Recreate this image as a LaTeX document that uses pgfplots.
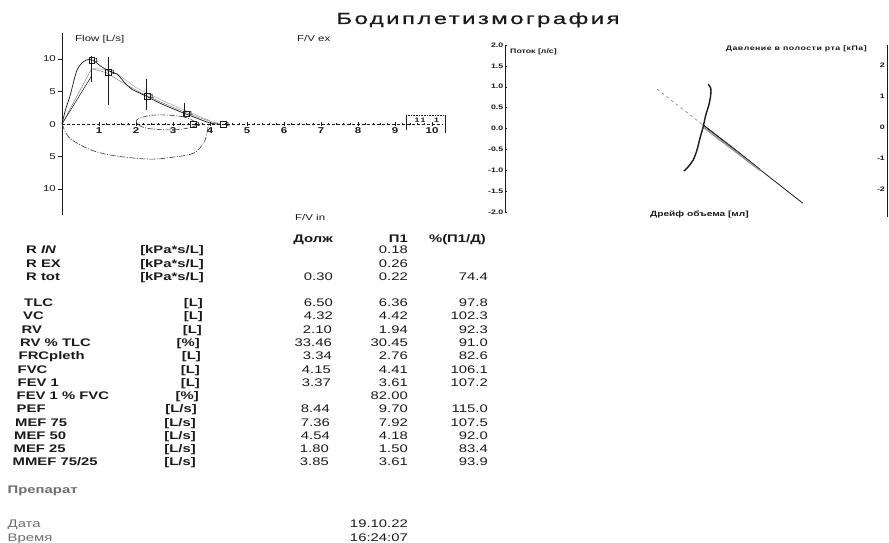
\documentclass[border=0pt]{standalone}
\usepackage{pgfplots}
\pgfplotsset{compat=1.18}
\usepackage{fontspec}
\setmainfont{Liberation Sans}[FakeStretch=1.35]
\newfontfamily\titlefont{Liberation Sans}[FakeStretch=1.5, LetterSpace=15, FakeBold=0.6]
\newfontfamily\wideb{Liberation Sans Bold}[FakeStretch=1.35, LetterSpace=8]
\definecolor{ink}{HTML}{1A1A1A}
\definecolor{lab}{HTML}{6E6E6E}
\definecolor{trace}{HTML}{3A3A3A}
\newcommand{\fs}[1]{\fontsize{#1}{#1}\selectfont}
% table row: baseline y, label x, label, unit right x, unit, pred, P1, pct, pred right x
\newcommand{\trow}[9]{%
  \node[anchor=base west,inner sep=0] at (#2pt,-#1pt) {\bfseries #3};
  \node[anchor=base east,inner sep=0] at (#4pt,-#1pt) {\bfseries #5};
  \node[anchor=base east,inner sep=0] at (#9pt,-#1pt) {#6};
  \node[anchor=base east,inner sep=0] at (408pt,-#1pt) {#7};
  \node[anchor=base east,inner sep=0] at (488pt,-#1pt) {#8};
}
\begin{document}
\begin{tikzpicture}
\fill[white] (0,0) rectangle (889pt,-543pt);
\useasboundingbox (0,0) rectangle (889pt,-543pt);

% ---------- title ----------
\node[anchor=base,inner sep=0,text=ink] at (478pt,-24pt) {\titlefont\fs{16}Бодиплетизмография};

% ---------- flow-volume panel ----------
\begin{axis}[
  anchor=origin, at={(62pt,-124pt)},
  x=37pt, y=6.5pt,
  xmin=0, xmax=10.3, ymin=-14, ymax=14,
  axis lines=middle,
  axis line style={-, line width=0.7pt, ink},
  x axis line style={densely dashed, line width=0.5pt},
  xtick={1,2,3,4,5,6,7,8,9,10},
  xticklabels={1,2,3,4,5,6,7,8,9,10},
  ytick={-10,-5,5,10},
  yticklabels={10,5,5,10},
  minor x tick num=4,
  xtick align=center, ytick align=outside,
  major tick length=4pt, minor tick length=2pt,
  tick style={ink, line width=0.5pt},
  x tick label style={font=\fs{8.5}\bfseries, text=ink, inner sep=1pt},
  y tick label style={font=\fs{8.5}, text=ink, inner sep=2pt},
  /pgf/number format/assume math mode=true,
  clip=false,
]
% predicted expiratory (two thin parallel traces)
\addplot[gray, line width=0.5pt] coordinates {(0,0) (0.8,8.5) (1.2,7.9) (1.75,6.0) (2.2,4.6) (2.7,3.3) (3.2,2.1) (3.7,1.0) (4.1,0.25) (4.3,0.05)};
\addplot[gray!70, line width=0.5pt] coordinates {(0.8,8.6) (1.1,8.4) (1.5,7.7) (2.0,5.6) (2.5,4.2) (3.0,2.9) (3.5,1.7) (4.0,0.5)};
\addplot[ink, line width=0.5pt] coordinates {(0,0) (0.8,7.4)};
% measured expiratory
\addplot[ink, line width=0.7pt, smooth, tension=0.5] coordinates {(0,0) (0.1,2.3) (0.22,4.4) (0.4,8.2) (0.58,9.6) (0.76,9.95) (0.89,9.6) (1.07,8.8) (1.3,8.1) (1.48,7.7) (1.6,7.0) (1.72,6.2) (1.9,5.3) (2.2,4.5) (2.65,3.2) (3.19,1.9) (3.64,0.9) (4.0,0.15) (4.2,0)};
% predicted ranges
\addplot[ink, line width=0.6pt] coordinates {(0.8,6.5) (0.8,10.4)};
\addplot[ink, line width=0.6pt] coordinates {(1.25,2.9) (1.25,10.3)};
\addplot[ink, line width=0.6pt] coordinates {(2.28,2.2) (2.28,6.9)};
\addplot[ink, line width=0.6pt] coordinates {(3.3,1.0) (3.3,3.3)};
% predicted points
\addplot[only marks, mark=square, mark size=2.8pt, ink, line width=0.5pt,
  nodes near coords={1}, every node near coord/.append style={anchor=west, font=\fs{6}, inner sep=2.5pt, text=ink}]
  coordinates {(0.8,9.8) (1.25,8.0) (2.3,4.3) (3.35,1.6) (3.55,0) (4.35,0)};
% inspiratory loop
\addplot[trace, line width=0.6pt, dash pattern=on 6pt off 1.5pt on 1pt off 1.5pt, smooth, tension=0.6] coordinates {(0,0) (0.17,-1.95) (0.49,-3.2) (0.94,-4.3) (1.57,-5.0) (2.38,-5.4) (3.0,-5.1) (3.55,-4.5) (3.82,-3.0) (3.91,-1.65) (3.95,-0.4) (4.0,0)};
% tidal loop
\addplot[trace, line width=0.6pt, dash pattern=on 5pt off 1.5pt on 1pt off 1.5pt, smooth cycle, tension=0.6] coordinates {(3.64,0.1) (3.28,1.1) (2.56,1.4) (2.1,0.9) (2.02,0.2) (2.29,-0.65) (3.0,-0.9) (3.5,-0.5)};
% scale box at the right
\addplot[ink, densely dotted, line width=0.6pt] coordinates {(9.3,1.4) (10.35,1.4)};
\addplot[ink, line width=0.6pt] coordinates {(10.35,1.4) (10.35,-1.4)};
\addplot[ink, line width=0.6pt] coordinates {(9.3,1.4) (9.3,-0.9)};
\node[font=\fs{6.5}\bfseries, text=ink, inner sep=0] at (axis cs:9.68,0.55) {1\,1};
\node[font=\fs{6.5}\bfseries, text=ink, inner sep=0] at (axis cs:10.12,0.55) {1};
\end{axis}
\node[anchor=east, inner sep=0, font=\fs{8.5}, text=ink] at (56pt,-124.5pt) {0};
\node[anchor=base west, inner sep=0, font=\fs{8.5}, text=ink] at (75pt,-42pt) {Flow [L/s]};
\node[anchor=base west, inner sep=0, font=\fs{8.5}, text=ink] at (297pt,-42pt) {F/V ex};
\node[anchor=base west, inner sep=0, font=\fs{8.5}, text=ink] at (295pt,-220pt) {F/V in};

% ---------- plethysmography panel ----------
\begin{axis}[
  anchor=south west, at={(505pt,-212pt)},
  scale only axis, width=380pt, height=167pt,
  xmin=-50, xmax=49, ymin=-2, ymax=2,
  axis x line=none, axis y line*=left,
  axis line style={-, line width=0.8pt, ink},
  ytick={-2,-1.5,-1,-0.5,0,0.5,1,1.5,2},
  y tick label style={/pgf/number format/fixed, /pgf/number format/fixed zerofill, /pgf/number format/precision=1, font=\fs{6.5}\bfseries, text=ink, inner sep=1.5pt},
  /pgf/number format/assume math mode=true,
  major tick length=2pt, tick style={ink, line width=0.5pt},
  clip=false,
]
% pressure vs volume drift
\addplot[gray, dashed, line width=0.6pt] coordinates {(-10.4,0.945) (1.5,0.09)};
\addplot[ink, line width=0.8pt] coordinates {(1.5,0.09) (27.6,-1.79)};
\addplot[gray!80, line width=1.6pt] coordinates {(1.8,0.02) (10,-0.55) (16.4,-1.0)};
\addplot[ink, line width=0.5pt] coordinates {(1.8,0.08) (10,-0.5) (16.4,-0.97)};
% flow vs volume drift
\addplot[ink, line width=1.4pt, smooth, tension=0.5] coordinates {(2.9,1.06) (3.6,0.97) (3.6,0.80) (3.1,0.56) (2.3,0.32) (1.6,0.03) (0.8,-0.23) (0,-0.52) (-1.0,-0.76) (-2.3,-0.92) (-3.4,-1.02)};
\end{axis}
% right-hand pressure axis (cut by the page edge)
\begin{axis}[
  anchor=south west, at={(887pt,-217pt)},
  scale only axis, width=1pt, height=172pt,
  xmin=0, xmax=1, ymin=-2.9, ymax=2.65,
  axis x line=none, axis y line*=left,
  axis line style={-, line width=0.8pt, ink},
  ytick={-2,-1,0,1,2},
  y tick label style={font=\fs{6.5}\bfseries, text=ink, inner sep=2pt},
  /pgf/number format/assume math mode=true,
  major tick length=0pt,
]
\addplot[draw=none] coordinates {(0,0)};
\end{axis}
\node[anchor=base west, inner sep=0, font=\fs{6.5}\bfseries, text=ink] at (510pt,-54pt) {Поток [л/с]};
\node[anchor=base east, inner sep=0, text=ink] at (867pt,-51pt) {\wideb\fs{6.5}Давление в полости рта [кПа]};
\node[anchor=base west, inner sep=0, font=\fs{7.5}\bfseries, text=ink] at (650pt,-216pt) {Дрейф объема [мл]};

% ---------- table ----------
\begin{scope}[every node/.style={text=ink, font=\fs{11}}]
\node[anchor=base east,inner sep=0] at (333pt,-242pt) {\bfseries Долж};
\node[anchor=base east,inner sep=0] at (408pt,-242pt) {\bfseries П1};
\node[anchor=base east,inner sep=0] at (486pt,-242pt) {\bfseries \%(П1/Д)};
\trow{253}{26}{R \textit{IN}}{204}{[kPa*s/L]}{}{0.18}{}{333}
\trow{267}{26}{R EX}{204}{[kPa*s/L]}{}{0.26}{}{333}
\trow{280}{26}{R tot}{204}{[kPa*s/L]}{0.30}{0.22}{74.4}{333}
\trow{306}{24}{TLC}{203}{[L]}{6.50}{6.36}{97.8}{333}
\trow{319}{23}{VC}{203}{[L]}{4.32}{4.42}{102.3}{333}
\trow{333}{21.5}{RV}{202}{[L]}{2.10}{1.94}{92.3}{332}
\trow{346}{20}{RV \% TLC}{200}{[\%]}{33.46}{30.45}{91.0}{332}
\trow{359}{18.5}{FRCpleth}{201}{[L]}{3.34}{2.76}{82.6}{332}
\trow{373}{17.5}{FVC}{200}{[L]}{4.15}{4.41}{106.1}{331}
\trow{386}{17.5}{FEV 1}{200}{[L]}{3.37}{3.61}{107.2}{331}
\trow{399}{16.5}{FEV 1 \% FVC}{199}{[\%]}{}{82.00}{}{331}
\trow{412.5}{16.5}{PEF}{197}{[L/s]}{8.44}{9.70}{115.0}{330}
\trow{426}{15}{MEF 75}{196}{[L/s]}{7.36}{7.92}{107.5}{330}
\trow{439}{14}{MEF 50}{196}{[L/s]}{4.54}{4.18}{92.0}{330}
\trow{452}{13.5}{MEF 25}{196}{[L/s]}{1.80}{1.50}{83.4}{329}
\trow{465}{12.5}{MMEF 75/25}{196}{[L/s]}{3.85}{3.61}{93.9}{329}
\end{scope}
\begin{scope}[every node/.style={text=lab, font=\fs{11}}]
\node[anchor=base west,inner sep=0] at (7.5pt,-493pt) {\bfseries Препарат};
\node[anchor=base west,inner sep=0] at (7.5pt,-527pt) {Дата};
\node[anchor=base west,inner sep=0] at (7.5pt,-541pt) {Время};
\end{scope}
\node[anchor=base east,inner sep=0,text=ink,font=\fs{11}] at (408pt,-527pt) {19.10.22};
\node[anchor=base east,inner sep=0,text=ink,font=\fs{11}] at (408pt,-541pt) {16:24:07};
\end{tikzpicture}
\end{document}
